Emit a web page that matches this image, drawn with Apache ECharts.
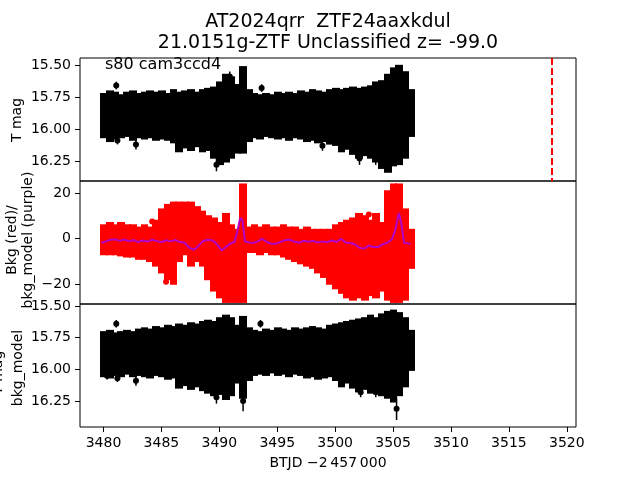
<!DOCTYPE html>
<html>
<head>
    <meta charset="utf-8">
    <title>AT2024qrr light curve</title>
    <script src="https://cdn.jsdelivr.net/npm/echarts@6/dist/echarts.min.js"></script>
</head>
<body style="margin:0">
    <div id="main" style="width: 640px;height:480px;"></div>
    <script>
        // time bins (BTJD), 0.5 d wide
        var binT = [3480.0, 3480.5, 3481.0, 3481.5, 3482.0, 3482.5, 3483.0, 3483.5, 3484.0, 3484.5,
            3485.0, 3485.5, 3486.0, 3486.5, 3487.0, 3487.5, 3488.0, 3488.5, 3489.0, 3489.5,
            3490.0, 3490.5, 3491.0, 3491.5, 3492.0, 3492.5, 3493.0, 3493.5, 3494.0, 3494.5,
            3495.0, 3495.5, 3496.0, 3496.5, 3497.0, 3497.5, 3498.0, 3498.5, 3499.0, 3499.5,
            3500.0, 3500.5, 3501.0, 3501.5, 3502.0, 3502.5, 3503.0, 3503.5, 3504.0, 3504.5,
            3505.0, 3505.5, 3506.0, 3506.5];

        // T mag envelope per bin (bright edge / faint edge)
        var magHi = [15.73, 15.71, 15.72, 15.74, 15.72, 15.71, 15.73, 15.72, 15.71, 15.72,
            15.71, 15.73, 15.70, 15.72, 15.71, 15.70, 15.72, 15.70, 15.69, 15.68,
            15.64, 15.58, 15.60, 15.66, 15.52, 15.70, 15.73, 15.74, 15.73, 15.74,
            15.72, 15.73, 15.72, 15.73, 15.71, 15.72, 15.70, 15.71, 15.72, 15.70,
            15.69, 15.70, 15.69, 15.68, 15.69, 15.68, 15.67, 15.64, 15.63, 15.58,
            15.53, 15.51, 15.56, 15.70];
        var magLo = [16.06, 16.09, 16.07, 16.06, 16.05, 16.08, 16.06, 16.07, 16.06, 16.08,
            16.07, 16.08, 16.10, 16.17, 16.14, 16.16, 16.13, 16.17, 16.16, 16.22,
            16.27, 16.25, 16.22, 16.18, 16.18, 16.09, 16.06, 16.07, 16.05, 16.06,
            16.07, 16.06, 16.08, 16.06, 16.07, 16.09, 16.08, 16.10, 16.09, 16.11,
            16.12, 16.17, 16.15, 16.19, 16.22, 16.20, 16.22, 16.25, 16.30, 16.33,
            16.28, 16.27, 16.22, 16.05];

        // background flux envelope per bin
        var bkgHi = [5, 6, 5, 6, 5, 5, 4, 5, 4, 7,
            12, 14, 15, 15, 15, 15, 13, 11, 9, 8,
            6, 10, 5, 3, 23, 4, 5, 4, 5, 4,
            4, 5, 4, 4, 3, 4, 3, 3, 3, 3,
            5, 6, 7, 8, 10, 9, 7, 10, 6, 20,
            23, 23, 12, 3];
        var bkgLo = [-6, -6, -6, -6.5, -7, -7, -8, -8, -9, -11,
            -14, -17, -19, -9, -6, -11, -9, -11, -17, -22,
            -25, -27, -27, -27, -27, -5, -5, -6, -5, -6,
            -6, -7, -8, -9, -10, -11, -12, -14, -16, -19,
            -21, -23, -25, -26, -25, -26, -24, -25, -22, -26,
            -27, -27, -26, -12];

        // T mag - bkg_model envelope per bin
        var subHi = [15.71, 15.70, 15.72, 15.71, 15.70, 15.71, 15.69, 15.68, 15.69, 15.67,
            15.68, 15.66, 15.67, 15.65, 15.66, 15.64, 15.65, 15.63, 15.62, 15.63,
            15.60, 15.58, 15.60, 15.66, 15.59, 15.68, 15.70, 15.71, 15.69, 15.70,
            15.68, 15.69, 15.70, 15.68, 15.69, 15.68, 15.67, 15.68, 15.69, 15.66,
            15.65, 15.64, 15.63, 15.62, 15.61, 15.60, 15.58, 15.60, 15.57, 15.55,
            15.54, 15.56, 15.60, 15.70];
        var subLo = [16.05, 16.06, 16.04, 16.05, 16.03, 16.05, 16.04, 16.05, 16.06, 16.04,
            16.05, 16.07, 16.06, 16.14, 16.12, 16.15, 16.13, 16.16, 16.18, 16.20,
            16.19, 16.23, 16.20, 16.10, 16.22, 16.08, 16.04, 16.03, 16.04, 16.02,
            16.04, 16.03, 16.05, 16.03, 16.04, 16.06, 16.05, 16.07, 16.06, 16.05,
            16.08, 16.13, 16.10, 16.14, 16.17, 16.15, 16.18, 16.16, 16.20, 16.22,
            16.25, 16.20, 16.13, 16.00];

        // bkg_model curve
        var modelT = [3479.8, 3480.2, 3480.6, 3481.0, 3481.4, 3481.8, 3482.2, 3482.6, 3483.0, 3483.4,
            3483.8, 3484.2, 3484.6, 3485.0, 3485.4, 3485.8, 3486.2, 3486.6, 3487.0, 3487.4,
            3487.8, 3488.2, 3488.6, 3489.0, 3489.4, 3489.8, 3490.2, 3490.6, 3491.0, 3491.3,
            3491.55, 3491.8, 3492.0, 3492.2, 3492.5, 3492.9, 3493.3, 3493.7, 3494.1, 3494.5,
            3494.9, 3495.3, 3495.7, 3496.1, 3496.5, 3496.9, 3497.3, 3497.7, 3498.1, 3498.5,
            3498.9, 3499.3, 3499.7, 3500.1, 3500.5, 3500.9, 3501.3, 3501.7, 3502.1, 3502.5,
            3502.9, 3503.3, 3503.7, 3504.1, 3504.5, 3504.9, 3505.2, 3505.5, 3505.7, 3505.95,
            3506.2, 3506.5];
        var modelV = [-1.9, -1.2, -0.5, -0.3, -1.0, -0.4, -1.2, -0.6, -1.5, -0.8,
            -1.3, -0.5, -1.1, -1.6, -0.7, -1.2, -0.6, -1.5, -1.8, -4.0,
            -4.9, -3.2, -1.0, -0.5, -0.7, -2.5, -5.2, -3.5, -2.0, -1.5,
            3.0, 9.1, 8.0, -1.3, -1.6, -1.9, -1.2, -0.1, -1.5, -2.3,
            -2.2, -1.4, -0.6, -0.5, -1.4, -1.8, -0.9, -1.4, -1.0, -1.7,
            -1.2, -1.6, -0.8, -1.5, -0.1, -1.7, -1.9, -2.5, -4.0, -4.4,
            -3.0, -3.7, -3.7, -2.5, -1.8, -0.3, 4.0, 11.3, 7.0, -1.9,
            -2.0, -2.2];

        // isolated points with error bars
        var magOutT = [3481.1, 3481.2, 3482.8, 3489.75, 3490.9, 3493.65, 3498.9, 3502.1, 3503.5, 3505.35, 3505.95];
        var magOutV = [15.66, 16.09, 16.12, 16.28, 15.59, 15.68, 16.13, 16.23, 16.23, 16.23, 16.13];
        var magOutE = [0.03, 0.03, 0.04, 0.05, 0.04, 0.03, 0.04, 0.05, 0.05, 0.05, 0.04];
        var subOutT = [3480.3, 3481.1, 3481.2, 3482.8, 3489.75, 3492.05, 3493.55, 3502.2, 3503.5, 3505.3, 3505.95];
        var subOutV = [16.05, 15.64, 16.07, 16.09, 16.22, 16.25, 15.64, 16.18, 16.18, 16.31, 16.09];
        var subOutE = [0.03, 0.03, 0.03, 0.04, 0.05, 0.08, 0.03, 0.04, 0.04, 0.09, 0.04];
        var bkgOutT = [3484.2, 3485.4, 3485.6, 3487.6, 3489.4, 3502.9];
        var bkgOutV = [7.5, -19, -16.5, -10, -13, 10.6];

        var xTicks = [3480, 3485, 3490, 3495, 3500, 3505, 3510, 3515, 3520];
        var magTicks = [15.5, 15.75, 16.0, 16.25];
        var bkgTicks = [-20, 0, 20];
        var nextSector = 3518.71;

        var font = 'DejaVu Sans';

        function zip3(a, b, c) {
            return a.map(function (v, i) { return [v, b[i], c[i]]; });
        }

        function binItem(pad) {
            return function (params, api) {
                var a = api.coord([api.value(0) - 0.25, api.value(1)]);
                var b = api.coord([api.value(0) + 0.25, api.value(2)]);
                var x0 = Math.floor(a[0]);
                var y0 = Math.min(a[1], b[1]);
                return {
                    type: 'rect',
                    shape: { x: x0, y: y0 - pad, width: Math.ceil(b[0]) - x0 + 1, height: Math.abs(b[1] - a[1]) + 2 * pad },
                    style: { fill: api.visual('color') }
                };
            };
        }

        function errItem(params, api) {
            var p = api.coord([api.value(0), api.value(1)]);
            var t = api.coord([api.value(0), api.value(1) - api.value(2)]);
            var b = api.coord([api.value(0), api.value(1) + api.value(2)]);
            return {
                type: 'group',
                children: [
                    { type: 'line', shape: { x1: p[0], y1: t[1], x2: p[0], y2: b[1] }, style: { stroke: '#000', lineWidth: 1.5 } },
                    { type: 'circle', shape: { cx: p[0], cy: p[1], r: 3 }, style: { fill: '#000' } }
                ]
            };
        }

        function yAxis(idx, min, max, ticks, fmt, inverse) {
            return {
                type: 'value', gridIndex: idx, min: min, max: max, inverse: inverse,
                axisLine: { show: false },
                axisTick: { show: true, length: 5, inside: false, customValues: ticks, lineStyle: { color: '#000' } },
                axisLabel: { customValues: ticks, margin: 9, color: '#000', fontSize: 14, fontFamily: font, formatter: fmt },
                splitLine: { show: false }
            };
        }

        function xAxis(idx, show) {
            return {
                type: 'value', gridIndex: idx, min: 3477.97, max: 3520.79,
                axisLine: { show: false },
                axisTick: { show: show, length: 5, customValues: xTicks, lineStyle: { color: '#000' } },
                axisLabel: {
                    show: show, customValues: xTicks, margin: 9, color: '#000', fontSize: 14, fontFamily: font,
                    formatter: function (v) { return String(v); }
                },
                splitLine: { show: false }
            };
        }

        function label(text, x, y, size, rot, align) {
            return {
                type: 'text', x: x, y: y, rotation: rot || 0, z: 10,
                style: { text: text, fill: '#000', fontSize: size, fontFamily: font, textAlign: align || 'center', textVerticalAlign: 'middle' }
            };
        }

        var gridBase = { left: 80, width: 496, show: true, borderColor: '#000', borderWidth: 1, backgroundColor: 'transparent' };

        var chart = echarts.init(document.getElementById('main'));
        var option = {
            animation: false,
            backgroundColor: '#fff',
            grid: [
                Object.assign({ top: 58, height: 123 }, gridBase),
                Object.assign({ top: 181, height: 123 }, gridBase),
                Object.assign({ top: 304, height: 123 }, gridBase)
            ],
            xAxis: [xAxis(0, false), xAxis(1, false), xAxis(2, true)],
            yAxis: [
                yAxis(0, 15.445, 16.406, magTicks, function (v) { return v.toFixed(2); }, true),
                yAxis(1, -28.8, 25.4, bkgTicks, function (v) { return v === 0 ? '0' : String(v).replace('-', '\u2212'); }, false),
                yAxis(2, 15.484, 16.455, magTicks, function (v) { return v.toFixed(2); }, true)
            ],
            series: [
                {
                    type: 'custom', xAxisIndex: 0, yAxisIndex: 0, clip: true,
                    itemStyle: { color: '#000' },
                    renderItem: binItem(1.5),
                    data: zip3(binT, magHi, magLo),
                    markLine: {
                        silent: true, symbol: 'none', label: { show: false },
                        lineStyle: { color: '#ff0000', type: [7, 3], width: 2 },
                        data: [{ xAxis: nextSector }]
                    }
                },
                {
                    type: 'custom', xAxisIndex: 0, yAxisIndex: 0, clip: true,
                    renderItem: errItem,
                    data: zip3(magOutT, magOutV, magOutE)
                },
                {
                    type: 'custom', xAxisIndex: 1, yAxisIndex: 1, clip: true,
                    itemStyle: { color: '#ff0000' },
                    renderItem: binItem(3),
                    data: zip3(binT, bkgHi, bkgLo)
                },
                {
                    type: 'scatter', xAxisIndex: 1, yAxisIndex: 1, symbolSize: 6,
                    itemStyle: { color: '#ff0000', opacity: 1 },
                    data: bkgOutT.map(function (t, i) { return [t, bkgOutV[i]]; })
                },
                {
                    type: 'line', xAxisIndex: 1, yAxisIndex: 1, showSymbol: false,
                    lineStyle: { color: '#b000c8', width: 2 },
                    data: modelT.map(function (t, i) { return [t, modelV[i]]; })
                },
                {
                    type: 'custom', xAxisIndex: 2, yAxisIndex: 2, clip: true,
                    itemStyle: { color: '#000' },
                    renderItem: binItem(1.5),
                    data: zip3(binT, subHi, subLo)
                },
                {
                    type: 'custom', xAxisIndex: 2, yAxisIndex: 2, clip: true,
                    renderItem: errItem,
                    data: zip3(subOutT, subOutV, subOutE)
                }
            ],
            graphic: [
                label('AT2024qrr  ZTF24aaxkdul', 328, 22, 19),
                label('21.0151g-ZTF Unclassified z= -99.0', 328, 43, 19),
                label('s80 cam3ccd4', 105, 65, 16, 0, 'left'),
                label('T mag', 17, 120, 14, Math.PI / 2),
                label('Bkg (red)/', 12, 240, 14, Math.PI / 2),
                label('bkg_model (purple)', 28, 240, 14, Math.PI / 2),
                label('T mag -', -2, 368, 14, Math.PI / 2),
                label('bkg_model', 18, 368, 14, Math.PI / 2),
                label('BTJD \u22122\u2009457\u2009000', 328, 463, 14)
            ]
        };
        chart.setOption(option);
    </script>
</body>
</html>
